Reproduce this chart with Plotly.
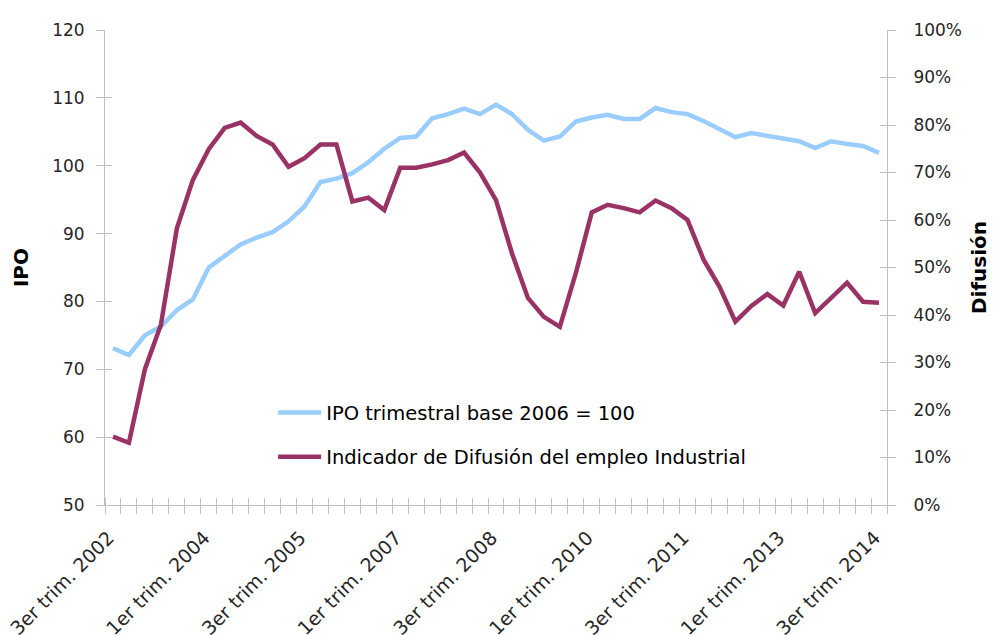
import plotly.graph_objects as go

ordinals = ["1er", "2do", "3er", "4to"]
quarters = []
for year in range(2002, 2015):
    for q in range(4):
        if (year == 2002 and q < 2) or (year == 2014 and q > 2):
            continue
        quarters.append(f"{ordinals[q]} trim. {year}")

ipo = [73.1, 72.1, 75.0, 76.3, 78.7, 80.3, 85.0, 86.8, 88.4, 89.4,
       90.2, 91.8, 94.0, 97.6, 98.1, 98.9, 100.5, 102.5, 104.1, 104.3,
       107.0, 107.6, 108.4, 107.6, 109.0, 107.6, 105.3, 103.7, 104.3, 106.5,
       107.1, 107.5, 106.9, 106.9, 108.5, 107.9, 107.6, 106.6, 105.4, 104.2,
       104.8, 104.4, 104.0, 103.6, 102.6, 103.6, 103.2, 102.9, 101.9]

difusion = [14.4, 13.1, 28.6, 37.9, 58.2, 68.4, 74.9, 79.4, 80.5, 77.7,
            75.9, 71.2, 73.0, 75.9, 75.9, 63.9, 64.7, 62.1, 71.0, 71.0,
            71.7, 72.6, 74.2, 70.0, 64.2, 53.0, 43.6, 39.6, 37.5, 48.8,
            61.6, 63.2, 62.5, 61.6, 64.1, 62.5, 60.0, 51.7, 46.0, 38.6,
            41.9, 44.4, 42.0, 49.1, 40.4, 43.6, 46.8, 42.8, 42.6]
difusion_frac = [v / 100 for v in difusion]

label_step = 6
xpos = list(range(len(quarters)))
tickvals = xpos[::label_step]
ticktext = [t + "\u00a0" for t in quarters[::label_step]]

FONT = "DejaVu Sans"
TXT = "#262626"
AX = "#BFBFBF"

fig = go.Figure()
fig.add_trace(go.Scatter(x=xpos, y=ipo, mode="lines", name="IPO trimestral base 2006 = 100",
                         line=dict(color="#99CCFF", width=4.5), legend="legend", showlegend=True))
fig.add_trace(go.Scatter(x=xpos, y=difusion_frac, mode="lines",
                         name="Indicador de Difusión del empleo Industrial",
                         line=dict(color="#993366", width=4.5), yaxis="y2", legend="legend2",
                         showlegend=True))
# invisible helpers so that tick-crossing overlay axes get drawn
fig.add_trace(go.Scatter(x=[], y=[], xaxis="x2", yaxis="y3", showlegend=False, hoverinfo="skip"))
fig.add_trace(go.Scatter(x=[], y=[], xaxis="x2", yaxis="y4", showlegend=False, hoverinfo="skip"))

xr = [-0.5, len(quarters) - 0.5]
fig.update_layout(
    width=988, height=627,
    margin=dict(l=97, r=109, t=22, b=130),
    paper_bgcolor="white", plot_bgcolor="white",
    showlegend=True,
    font=dict(family=FONT, size=17, color=TXT),
    xaxis=dict(range=xr, tickvals=tickvals, ticktext=ticktext, tickangle=-45,
               ticks="", showgrid=False, zeroline=False, automargin=False,
               showline=True, linecolor=AX, linewidth=1,
               ticklabelstandoff=9, ticklabeloverflow="allow",
               minor=dict(tick0=-0.5, dtick=1, ticks="outside", ticklen=8, tickcolor=AX),
               tickfont=dict(size=19, color=TXT)),
    xaxis2=dict(range=xr, overlaying="x", anchor="y", side="bottom", showticklabels=False,
                showgrid=False, zeroline=False, showline=False, ticks="", automargin=False,
                minor=dict(tick0=-0.5, dtick=1, ticks="inside", ticklen=7, tickcolor=AX)),
    yaxis=dict(range=[50, 120], dtick=10, tick0=50, ticks="outside", ticklen=8, tickcolor=AX,
               showgrid=False, zeroline=False, showline=True, linecolor=AX, automargin=False,
               ticklabelstandoff=8,
               title=dict(text="<b>IPO</b>", font=dict(size=20, color="black"), standoff=18),
               tickfont=dict(size=17, color=TXT)),
    yaxis2=dict(range=[0, 1], dtick=0.1, tick0=0, tickformat=".0%", overlaying="y", side="right",
                anchor="x", ticks="outside", ticklen=8, tickcolor=AX, automargin=False,
                showgrid=False, zeroline=False, showline=True, linecolor=AX,
                ticklabelstandoff=14,
                title=dict(text="<b>Difusión</b>", font=dict(size=20, color="black"), standoff=10),
                tickfont=dict(size=17, color=TXT)),
    yaxis3=dict(range=[50, 120], dtick=10, tick0=50, overlaying="y", side="left", anchor="x",
                ticks="inside", ticklen=7, tickcolor=AX, showticklabels=False, automargin=False,
                showgrid=False, zeroline=False, showline=False),
    yaxis4=dict(range=[0, 1], dtick=0.1, tick0=0, overlaying="y", side="right", anchor="x",
                ticks="inside", ticklen=7, tickcolor=AX, showticklabels=False, automargin=False,
                showgrid=False, zeroline=False, showline=False),
    legend=dict(x=0.215, y=0.194, xanchor="left", yanchor="middle", bgcolor="rgba(0,0,0,0)",
                itemwidth=43, font=dict(size=19.5, color="black")),
    legend2=dict(x=0.215, y=0.101, xanchor="left", yanchor="middle", bgcolor="rgba(0,0,0,0)",
                 itemwidth=43, font=dict(size=19.5, color="black")),
)

fig.write_html("out.html")
